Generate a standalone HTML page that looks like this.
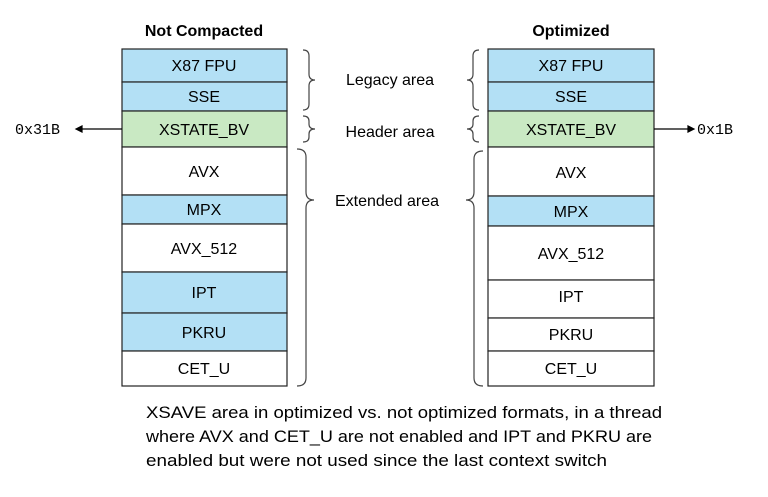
<!DOCTYPE html>
<html><head><style>
body{margin:0;width:768px;height:497px;background:#fff;font-family:"Liberation Sans",sans-serif;}
svg{display:block}
</style></head><body>
<svg width="768" height="497" xmlns="http://www.w3.org/2000/svg" font-family="Liberation Sans, sans-serif">
<g stroke="#222" stroke-width="1.2">
<rect x="122" y="49" width="165" height="33" fill="#b3e0f5"/>
<rect x="122" y="82" width="165" height="29" fill="#b3e0f5"/>
<rect x="122" y="111" width="165" height="36" fill="#c9e9c3"/>
<rect x="122" y="147" width="165" height="48" fill="#fff"/>
<rect x="122" y="195" width="165" height="29" fill="#b3e0f5"/>
<rect x="122" y="224" width="165" height="48" fill="#fff"/>
<rect x="122" y="272" width="165" height="41" fill="#b3e0f5"/>
<rect x="122" y="313" width="165" height="38" fill="#b3e0f5"/>
<rect x="122" y="351" width="165" height="35" fill="#fff"/>

<rect x="488" y="49" width="166" height="33" fill="#b3e0f5"/>
<rect x="488" y="82" width="166" height="29" fill="#b3e0f5"/>
<rect x="488" y="111" width="166" height="36" fill="#c9e9c3"/>
<rect x="488" y="147" width="166" height="49" fill="#fff"/>
<rect x="488" y="196" width="166" height="30" fill="#b3e0f5"/>
<rect x="488" y="226" width="166" height="54" fill="#fff"/>
<rect x="488" y="280" width="166" height="38" fill="#fff"/>
<rect x="488" y="318" width="166" height="33" fill="#fff"/>
<rect x="488" y="351" width="166" height="35" fill="#fff"/>
</g>
<g font-size="16" text-anchor="middle" fill="#000">
<text x="204" y="36" font-weight="bold">Not Compacted</text>
<text x="571" y="36" font-weight="bold">Optimized</text>
<text x="204" y="71">X87 FPU</text>
<text x="204" y="102">SSE</text>
<text x="204" y="135">XSTATE_BV</text>
<text x="204" y="177">AVX</text>
<text x="204" y="215">MPX</text>
<text x="204" y="254">AVX_512</text>
<text x="204" y="298">IPT</text>
<text x="204" y="338">PKRU</text>
<text x="204" y="374">CET_U</text>
<text x="571" y="71">X87 FPU</text>
<text x="571" y="102">SSE</text>
<text x="571" y="135">XSTATE_BV</text>
<text x="571" y="178">AVX</text>
<text x="571" y="217">MPX</text>
<text x="571" y="259">AVX_512</text>
<text x="571" y="302">IPT</text>
<text x="571" y="340">PKRU</text>
<text x="571" y="374">CET_U</text>
<text x="390" y="85">Legacy area</text>
<text x="390" y="137">Header area</text>
<text x="387" y="206">Extended area</text>
</g>
<g font-family="Liberation Mono, monospace" font-size="15">
<text x="15" y="134">0x31B</text>
<text x="697" y="134">0x1B</text>
</g>
<g stroke="#000" stroke-width="1.2" fill="#000">
<line x1="122" y1="129" x2="80" y2="129"/><path d="M76 129 l6 -3 v6z"/>
<line x1="654" y1="129" x2="690" y2="129"/><path d="M694 129 l-6 -3 v6z"/>
</g>
<g stroke="#444" stroke-width="1.2" fill="none">
<path d="M303 50 q6 0 6 6 v18 q0 6 6 6 q-6 0 -6 6 v18 q0 6 -6 6"/>
<path d="M303 116 q6 0 6 5 v3 q0 5 6 5 q-6 0 -6 5 v3 q0 5 -6 5"/>
<path d="M297 149 q9 0 9 8 v35 q0 8 8 8 q-8 0 -8 8 v170 q0 8 -9 8"/>
<path d="M479 50 q-6 0 -6 6 v18 q0 6 -6 6 q6 0 6 6 v18 q0 6 6 6"/>
<path d="M479 116 q-6 0 -6 5 v3 q0 5 -6 5 q6 0 6 5 v3 q0 5 6 5"/>
<path d="M483 151 q-9 0 -9 8 v33 q0 8 -8 8 q8 0 8 8 v170 q0 8 9 8"/>
</g>
<g font-size="17" fill="#000">
<text x="146" y="418" textLength="516" lengthAdjust="spacingAndGlyphs">XSAVE area in optimized vs. not optimized formats, in a thread</text>
<text x="146" y="442" textLength="506" lengthAdjust="spacingAndGlyphs">where AVX and CET_U are not enabled and IPT and PKRU are</text>
<text x="146" y="466" textLength="461" lengthAdjust="spacingAndGlyphs">enabled but were not used since the last context switch</text>
</g>
</svg>
</body></html>
